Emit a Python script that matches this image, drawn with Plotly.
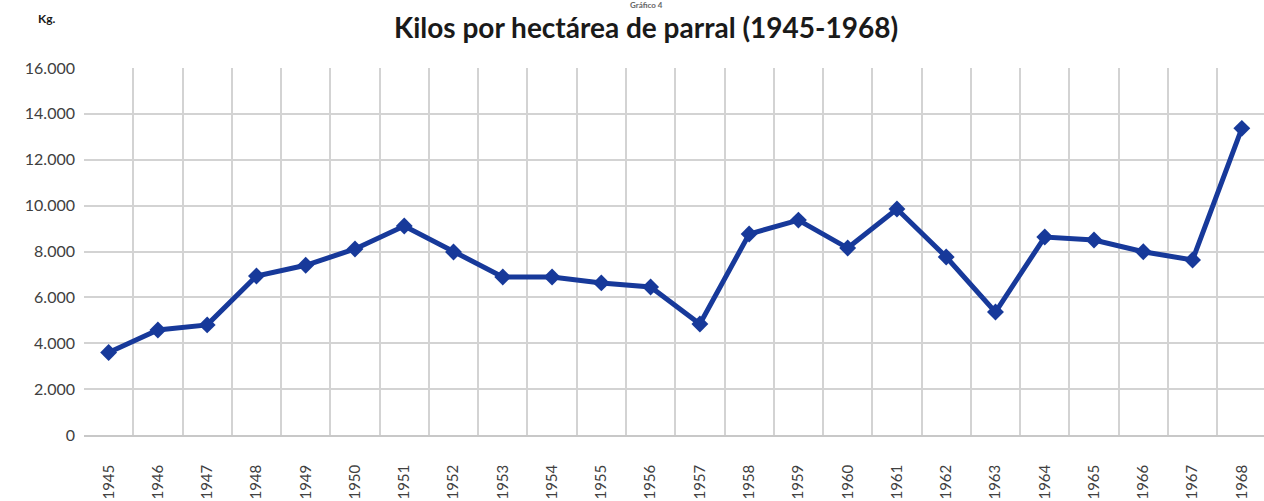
import plotly.graph_objects as go

years = [str(y) for y in range(1945, 1969)]
kilos = [3600, 4580, 4800, 6930, 7400, 8110, 9110, 7980, 6890, 6890, 6630, 6450,
         4840, 8760, 9370, 8150, 9850, 7760, 5360, 8630, 8500, 7990, 7630, 13370]
y_ticks = [0, 2000, 4000, 6000, 8000, 10000, 12000, 14000, 16000]

title_text = "Kilos por hectárea de parral (1945-1968)"
top_text = "Gráfico 4"
unit_text = "Kg."

fig = go.Figure()
fig.add_trace(go.Scatter(
    x=years, y=kilos, mode="lines+markers",
    line=dict(color="#17399a", width=5),
    marker=dict(symbol="diamond", size=13, color="#17399a"),
    showlegend=False,
))

fig.update_layout(
    width=1264, height=501,
    margin=dict(l=84, r=0, t=68, b=66),
    paper_bgcolor="white", plot_bgcolor="white",
    separators=",.",
    font=dict(family="Lato, Open Sans, sans-serif", color="#404040", size=16),
    annotations=[
        dict(text="<b>" + title_text + "</b>", xref="paper", yref="paper",
             x=(646 - 84) / 1180, y=1.0, yshift=41, xanchor="center", yanchor="middle",
             showarrow=False, font=dict(size=28, color="#1a1a1a")),
        dict(text="<b>" + top_text + "</b>", xref="paper", yref="paper",
             x=(646 - 84) / 1180, y=1.0, yshift=63, xanchor="center", yanchor="middle",
             showarrow=False, font=dict(size=8, color="#666666")),
        dict(text="<b>" + unit_text + "</b>", xref="paper", yref="paper",
             x=0, y=1.0, xshift=-37, yshift=50, xanchor="center", yanchor="middle",
             showarrow=False, font=dict(size=12, color="#1a1a1a")),
    ],
)

fig.update_xaxes(
    type="category", tickson="boundaries", range=[-0.5, 23.45],
    showgrid=True, gridcolor="#d3d3d3", gridwidth=1.5,
    showline=True, linecolor="#c8c8c8", linewidth=1.5,
    ticks="", tickangle=-90, tickfont=dict(size=15, color="#404040"),
    ticklabelstandoff=22, automargin=False,
)
fig.update_yaxes(
    range=[0, 16000], tickvals=y_ticks, tickformat=",d",
    showgrid=True, gridcolor="#d3d3d3", gridwidth=1.5,
    zeroline=False, showline=False, ticks="",
    tickfont=dict(size=16, color="#404040"), ticklabelstandoff=8, automargin=False,
)

fig.write_html("out.html", config={"displayModeBar": False},
               post_script="document.body.style.margin='0';document.body.style.overflow='hidden';")
